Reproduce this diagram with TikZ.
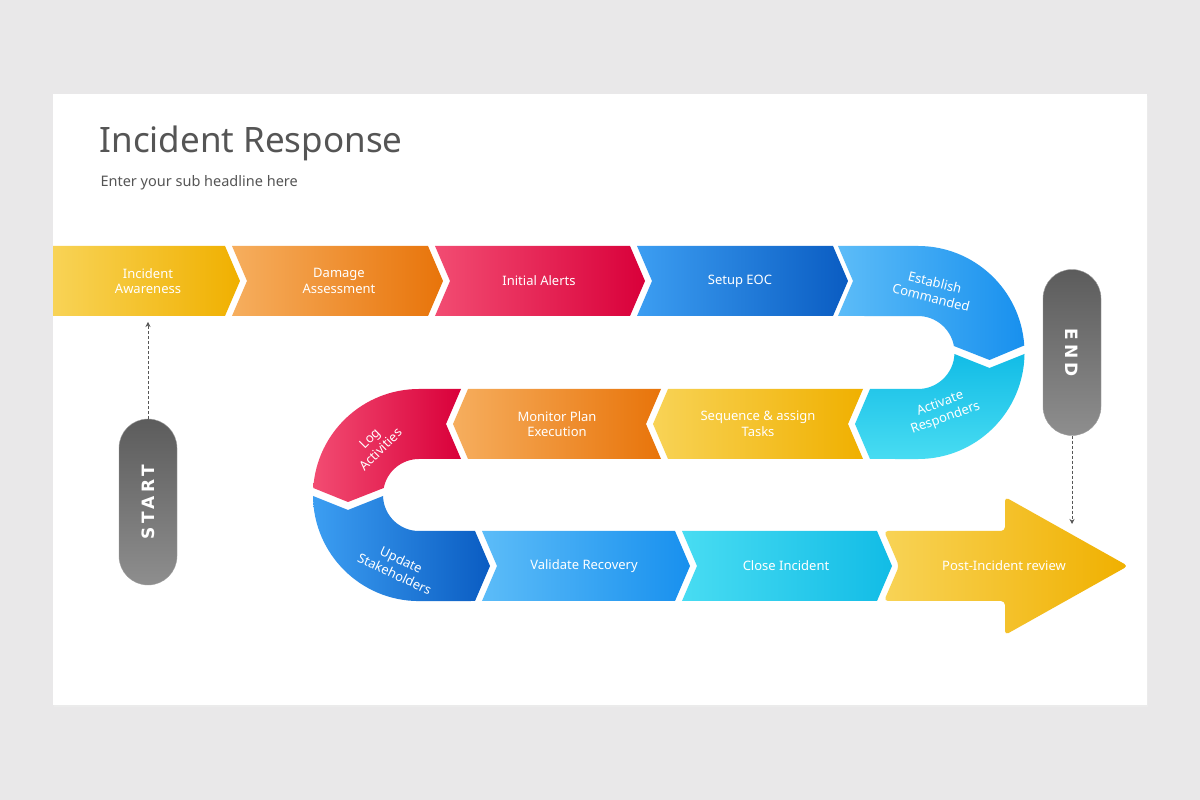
\documentclass[tikz,border=0pt]{standalone}
\usepackage{fontspec}
\setmainfont{Noto Sans}
\newfontfamily\pillfont{DejaVu Sans}[LetterSpace=22]
\usetikzlibrary{arrows.meta}
\definecolor{bg}{HTML}{E9E8E9}
\definecolor{ttl}{HTML}{555555}
\definecolor{yA}{HTML}{F8D356}\definecolor{yB}{HTML}{F0B000}
\definecolor{oA}{HTML}{F6AE5E}\definecolor{oB}{HTML}{E8740A}
\definecolor{rA}{HTML}{F24C72}\definecolor{rB}{HTML}{D9003A}
\definecolor{bA}{HTML}{3C9EF2}\definecolor{bB}{HTML}{0A5CC2}
\definecolor{lA}{HTML}{5CBCF8}\definecolor{lB}{HTML}{1890EE}
\definecolor{cA}{HTML}{48DCF2}\definecolor{cB}{HTML}{12BCE6}
\definecolor{gA}{HTML}{5C5C5C}\definecolor{gB}{HTML}{8E8E8E}
\tikzset{
  lbl/.style={text=white,font=\fontsize{13}{15.5}\selectfont,align=center},
  pill/.style={rounded corners=29pt,minimum width=58pt,minimum height=166pt,top color=gA,bottom color=gB,draw=gA!60,inner sep=0pt},
  pilltext/.style={text=white,font=\pillfont\bfseries\fontsize{17}{20}\selectfont},
  dasharrow/.style={densely dashed,draw=ttl,line width=0.8pt,-{Stealth[length=5pt,width=5pt]}},
  yel/.style={left color=yA,right color=yB},
  ora/.style={left color=oA,right color=oB},
  red/.style={left color=rA,right color=rB},
  blu/.style={left color=bA,right color=bB},
  lbl2/.style={left color=lA,right color=lB},
  cya/.style={left color=cA,right color=cB},
}
\begin{document}
\begin{tikzpicture}[x=1pt,y=1pt]
\useasboundingbox (0,0) rectangle (1200,800);
\fill[bg] (0,0) rectangle (1200,800);
\fill[black!8] (54,93) rectangle (1148,704);
\fill[white] (53,95) rectangle (1147,706);
\node[anchor=west,text=ttl,font=\fontsize{35}{40}\selectfont] (title) at (96,657) {Incident Response};
\node[anchor=west,text=ttl,font=\fontsize{14.5}{17}\selectfont] (sub) at (97,617) {Enter your sub headline here};
% row 1
\shade[yel] (53,554)--(225,554)--(240,519)--(225,484)--(53,484)--cycle;
\shade[ora] (232,554)--(428,554)--(443,519)--(428,484)--(232,484)--(247,519)--cycle;
\shade[red] (435,554)--(630,554)--(645,519)--(630,484)--(435,484)--(450,519)--cycle;
\shade[blu] (637,554)--(833,554)--(848,519)--(833,484)--(637,484)--(652,519)--cycle;
\shade[lbl2] (838,554)--(918,554) arc[start angle=90,end angle=3.8,radius=106.5]--(989.5,440)--(953.9,454) arc[start angle=10.3,end angle=90,radius=36.5]--(838,484)--(853,519)--cycle;
\shade[cya,shading angle=180] (1024.5,446)arc[start angle=-0.8,end angle=-90,radius=106.5]--(870,341)--(855,376)--(870,411)--(918,411) arc[start angle=-90,end angle=-2.4,radius=36.5]--(989.5,432)--cycle;
% row 2
\shade[yel] (863,411)--(668,411)--(653,376)--(668,341)--(863,341)--(848,376)--cycle;
\shade[ora] (661,411)--(468,411)--(453,376)--(468,341)--(661,341)--(646,376)--cycle;
\shade[red] (461,411)--(419,411) arc[start angle=90,end angle=176.2,radius=106]--(348,298)--(383.7,312) arc[start angle=168.8,end angle=90,radius=36]--(461,341)--(446,376)--cycle;
% row 3
\shade[blu] (313,304) arc[start angle=180.5,end angle=270,radius=106]--(475,199)--(490,234)--(475,269)--(419,269) arc[start angle=270,end angle=181.6,radius=36]--(348,290)--cycle;
\shade[lbl2] (482,269)--(675,269)--(690,234)--(675,199)--(482,199)--(497,234)--cycle;
\shade[cya] (682,269)--(877,269)--(892,234)--(877,199)--(682,199)--(697,234)--cycle;
\shade[yel,rounded corners=4pt] (884,269)--(1005,269)--(1005,303)--(1128,234)--(1005,165)--(1005,199)--(884,199)--(899,234)--cycle;
% labels
\node[lbl] (n1) at (148,519) {Incident\\Awareness};
\node[lbl] (n2) at (339,519) {Damage\\Assessment};
\node[lbl] (n3) at (539,519) {Initial Alerts};
\node[lbl] (n4) at (740,519) {Setup EOC};
\node[lbl,rotate=-14] (n5) at (933,510) {Establish\\Commanded};
\node[lbl,rotate=20] (n6) at (943,389) {Activate\\Responders};
\node[lbl] (n7) at (758,376) {Sequence \& assign\\Tasks};
\node[lbl] (n8) at (557,376) {Monitor Plan\\Execution};
\node[lbl,rotate=45] (n9) at (375,356) {Log\\Activities};
\node[lbl,rotate=-25] (n10) at (398,233) {Update\\Stakeholders};
\node[lbl] (n11) at (584,234) {Validate Recovery};
\node[lbl] (n12) at (786,234) {Close Incident};
\node[lbl] (n13) at (1004,234) {Post-Incident review};
% pills
\node[pill] (start) at (148,298) {};
\node[pilltext,rotate=90] (starttext) at (start.center) {START};
\node[pill] (end) at (1072,447.5) {};
\node[pilltext,rotate=-90] (endtext) at (end.center) {END};
\coordinate (sa) at (148,478);
\coordinate (ea) at (1072,276);
\draw[dasharrow] (start.north) -- (sa);
\draw[dasharrow] (end.south) -- (ea);
\end{tikzpicture}
\end{document}
